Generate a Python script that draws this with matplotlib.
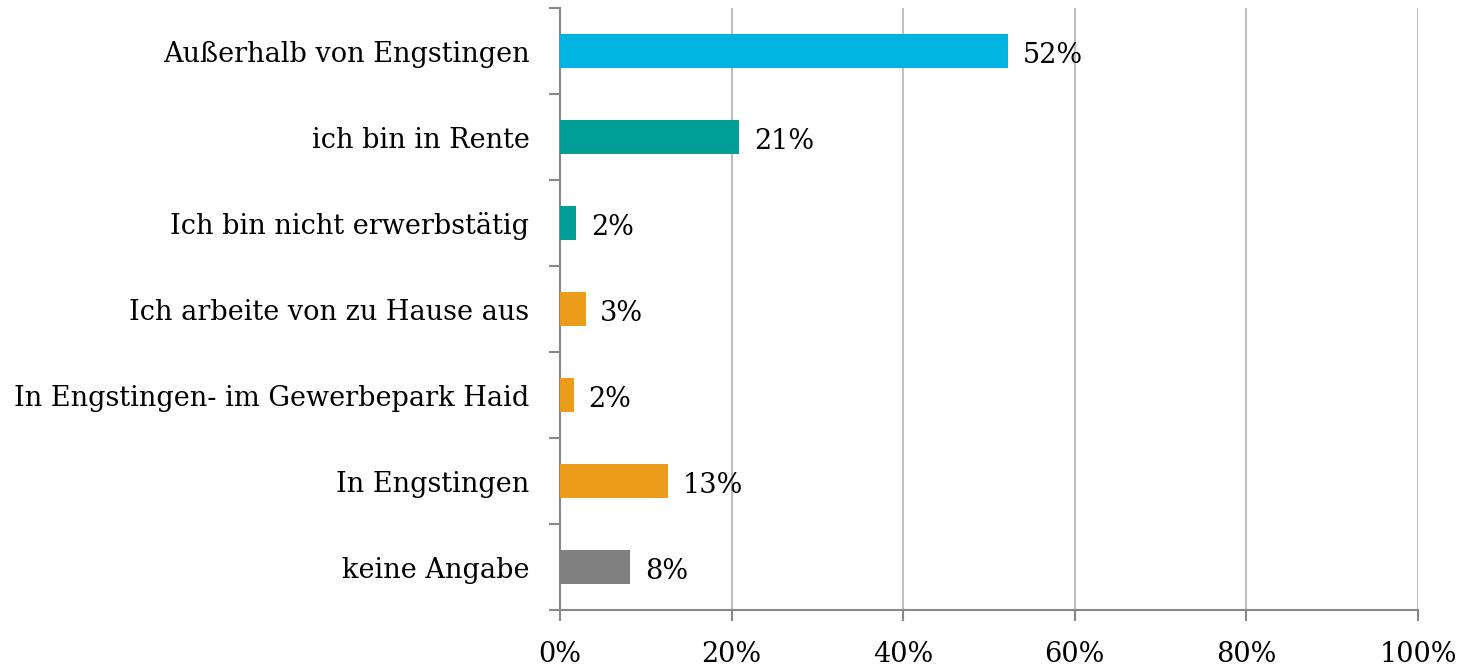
import numpy as np
import matplotlib.pyplot as plt

categories = ["Außerhalb von Engstingen", "ich bin in Rente", "Ich bin nicht erwerbstätig",
              "Ich arbeite von zu Hause aus", "In Engstingen- im Gewerbepark Haid",
              "In Engstingen", "keine Angabe"]
values = [52.2, 20.9, 1.9, 3.0, 1.6, 12.6, 8.2]
labels = ["52%", "21%", "2%", "3%", "2%", "13%", "8%"]
colors = ["#00B5E2", "#009E96", "#009E96", "#EB9C1A", "#EB9C1A", "#EB9C1A", "#808080"]
xticks = [0, 20, 40, 60, 80, 100]

plt.rcParams['font.family'] = ['DejaVu Serif']

fig = plt.figure(figsize=(14.64, 6.69), dpi=100)
ax = fig.add_axes([0.3825, 0.088, 0.5861, 0.900])

y = np.arange(len(categories))
ax.barh(y, values, height=0.4, color=colors, zorder=3)
for yi, v, lab in zip(y, values, labels):
    ax.text(v + 1.7, yi + 0.05, lab, va='center', ha='left', fontsize=19.5, color='black')

ax.set_xlim(0, 100)
ax.set_ylim(len(categories) - 0.5, -0.5)
ax.set_xticks(xticks)
ax.set_xticklabels([f"{t}%" for t in xticks], fontsize=19.5)
ax.set_yticks(y)
ax.set_yticklabels(categories, fontsize=19.5)
ax.set_yticks(np.arange(-0.5, len(categories)), minor=True)
ax.tick_params(axis='y', which='major', length=0, pad=22)
ax.tick_params(axis='y', which='minor', length=8, color='#888888', width=1.5)
ax.tick_params(axis='x', length=8, color='#888888', width=1.5, pad=14)

ax.grid(axis='x', color='#C0C0C0', linewidth=1.5, zorder=0)
for s in ['top', 'right']:
    ax.spines[s].set_visible(False)
for s in ['left', 'bottom']:
    ax.spines[s].set_color('#888888')
    ax.spines[s].set_linewidth(1.5)

fig.savefig("out.png", dpi=100)
